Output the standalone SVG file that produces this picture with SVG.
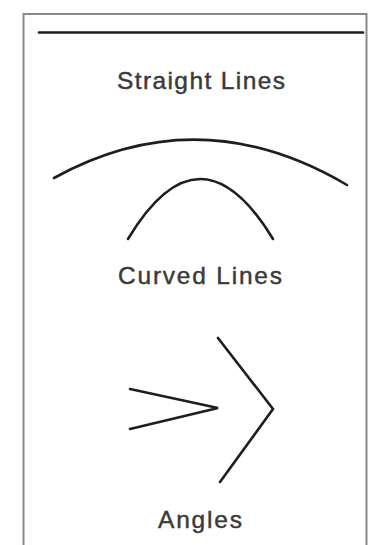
<svg xmlns="http://www.w3.org/2000/svg" width="368" height="545" viewBox="0 0 368 545">
<style>
.frame{fill:none;stroke:#8a8a8a;stroke-width:2}
.ln{fill:none;stroke:#1e1e1e;stroke-width:2.6;stroke-linecap:round;stroke-linejoin:miter}
.lbl{font-family:"Liberation Sans",Arial,sans-serif;font-size:24.5px;fill:#3a3a3a;stroke:#3a3a3a;stroke-width:0.45}
</style>
<rect width="368" height="545" fill="#ffffff"/>
<path class="frame" d="M23.5,545 V14 H366.5 V545"/>
<g id="straight">
<line class="ln" x1="39" y1="32.5" x2="363" y2="32.5" stroke-width="3"/>
<text class="lbl" x="117" y="89" textLength="168" lengthAdjust="spacing">Straight Lines</text>
</g>
<g id="curved">
<path class="ln" d="M54,178 Q199.5,98 347,185"/>
<path class="ln" d="M128,239 Q200,119 273,239"/>
<text class="lbl" x="118" y="284" textLength="164" lengthAdjust="spacing">Curved Lines</text>
</g>
<g id="angles">
<polyline class="ln" points="130,389 218,408 130,429"/>
<polyline class="ln" points="218,338 273,409 220,482"/>
<text class="lbl" x="158" y="528" textLength="84" lengthAdjust="spacing">Angles</text>
</g>
</svg>
